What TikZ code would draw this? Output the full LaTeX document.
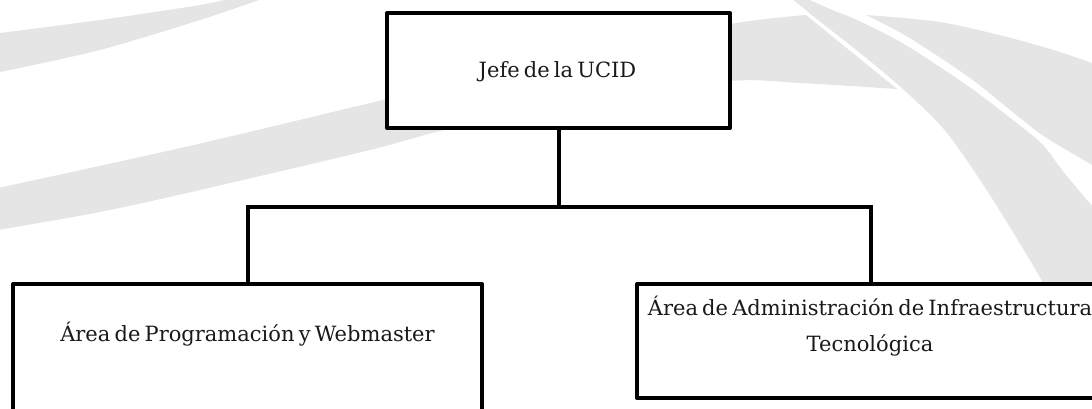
\documentclass[tikz,border=0pt]{standalone}
\usepackage{fontspec}
\setmainfont{DejaVu Serif}
\newcommand{\tightsp}{\spaceskip=0.2em\relax}
\begin{document}
\begin{tikzpicture}[x=1pt,y=-1pt,
  swoosh/.style={fill=black!10,draw=none},
  orgbox/.style={draw=black,fill=white,line width=4pt,line join=round,rectangle,inner sep=0pt,outer sep=0pt},
  link/.style={draw=black,line width=4pt,line join=miter},
  lbl/.style={anchor=base,inner sep=0pt,outer sep=0pt,text=black!90,font=\fontsize{21}{25}\selectfont}]
\useasboundingbox (0,0) rectangle (1092,408);
\begin{scope}
\clip (0,0) rectangle (1092,408);
% background swooshes
\fill[swoosh] (0,33) -- plot[smooth] coordinates {(0,33) (100,20) (200,5) (228,-1)}
  -- (262,-1) -- plot[smooth] coordinates {(262,-1) (200,20) (100,50) (0,72)} -- cycle;
\fill[swoosh] plot[smooth] coordinates {(-2,188) (185,147) (370,103) (560,57) (730,24) (806,15)}
  -- plot[smooth] coordinates {(897,89) (800,83) (730,81) (600,100) (453,128) (370,150) (200,190) (100,212) (-2,230)} -- cycle;
\fill[swoosh] plot[smooth] coordinates {(790,-3) (813,16) (860,53) (904,90) (947,133) (993,200) (1043,283) (1075,350) (1100,420)}
  -- (1200,420) -- (1200,240)
  -- plot[smooth] coordinates {(1110,225) (1087,200) (1062,170) (1043,145) (1018,124) (968,86) (904,44) (857,20) (830,9) (803,-3)} -- cycle;
\fill[swoosh] plot[smooth] coordinates {(866,15) (940,22) (1007,37) (1060,52) (1100,66)}
  -- plot[smooth] coordinates {(1100,170) (1092,165) (1045,137) (1020,118) (970,78) (908,37) (866,15)} -- cycle;
% boxes and connectors
\coordinate (bus) at (558.5,207);
\node[orgbox,minimum width=343pt,minimum height=115pt] (jefe) at (558.5,70.5) {};
\node[orgbox,minimum width=469pt,minimum height=160pt] (prog) at (247.5,364) {};
\node[orgbox,minimum width=468pt,minimum height=114pt] (infra) at (871,341) {};
\draw[link] (jefe.south) -- (bus);
\draw[link] (prog.north) |- (bus) -| (infra.north);
% labels
\node[lbl] (tjefe) at (557.5,77) {\tightsp Jefe de la UCID};
\node[lbl] (tprog) at (247.5,341) {\tightsp Área de Programación y Webmaster};
\node[lbl] (tinfra1) at (870,315) {\tightsp Área de Administración de Infraestructura};
\node[lbl] (tinfra2) at (870,351) {\tightsp Tecnológica};
\end{scope}
\end{tikzpicture}
\end{document}
